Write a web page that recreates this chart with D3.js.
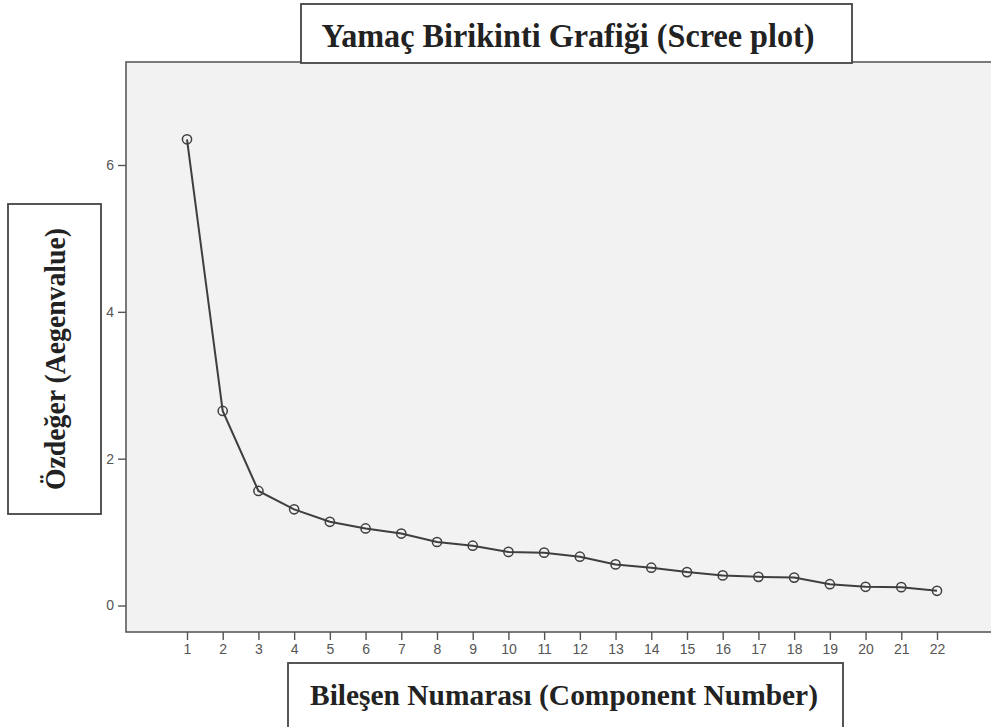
<!DOCTYPE html>
<html>
<head>
<meta charset="utf-8">
<script src="https://cdn.jsdelivr.net/npm/d3@7"></script>
<style>
  html, body { margin: 0; padding: 0; background: #ffffff; }
  svg { display: block; }
</style>
</head>
<body>
<svg id="chart" width="991" height="727"></svg>
<script>
// ---- data ----
const components = [1,2,3,4,5,6,7,8,9,10,11,12,13,14,15,16,17,18,19,20,21,22];
const eigenvalues = [6.35,2.65,1.56,1.31,1.14,1.05,0.98,0.865,0.815,0.73,0.72,0.665,0.56,0.515,0.455,0.41,0.39,0.38,0.29,0.255,0.25,0.20];
const yTicks = [0,2,4,6];
const titleText = "Yamaç Birikinti Grafiği (Scree plot)";
const xLabelText = "Bileşen Numarası (Component Number)";
const yLabelText = "Özdeğer (Aegenvalue)";

const svg = d3.select("#chart");

// plot frame
const frame = {left: 126, top: 62, bottom: 632, right: 1000};

const x = d3.scaleLinear().domain([1, 22]).range([187, 937]);
const y = d3.scaleLinear().domain([0, 6]).range([605.5, 165]);

// plot background
svg.append("rect")
  .attr("x", frame.left).attr("y", frame.top)
  .attr("width", frame.right - frame.left).attr("height", frame.bottom - frame.top)
  .attr("fill", "#f2f2f2")
  .attr("stroke", "#5a5a5a").attr("stroke-width", 1.6);

// y axis
const yAxis = d3.axisLeft(y).tickValues(yTicks).tickSize(8).tickPadding(4).tickFormat(d3.format("d"));
const gy = svg.append("g").attr("transform", `translate(${frame.left},0)`).call(yAxis);
gy.select(".domain").remove();
gy.selectAll(".tick line").attr("stroke", "#555").attr("stroke-width", 1.4);
gy.selectAll(".tick text").attr("fill", "#555").style("font-family", "'Liberation Sans', Arial, sans-serif").style("font-size", "14px");

// x axis
const xAxis = d3.axisBottom(x).tickValues(components).tickSize(8).tickPadding(4).tickFormat(d3.format("d"));
const gx = svg.append("g").attr("transform", `translate(0,${frame.bottom})`).call(xAxis);
gx.select(".domain").remove();
gx.selectAll(".tick line").attr("stroke", "#555").attr("stroke-width", 1.4);
gx.selectAll(".tick text").attr("fill", "#555").style("font-family", "'Liberation Sans', Arial, sans-serif").style("font-size", "14px");

// line
const data = components.map((c, i) => ({c, v: eigenvalues[i]}));
svg.append("path")
  .datum(data)
  .attr("fill", "none")
  .attr("stroke", "#3f3f3f")
  .attr("stroke-width", 2)
  .attr("d", d3.line().x(d => x(d.c)).y(d => y(d.v)));

svg.selectAll("circle.pt")
  .data(data)
  .enter().append("circle")
  .attr("class", "pt")
  .attr("cx", d => x(d.c)).attr("cy", d => y(d.v))
  .attr("r", 4.6)
  .attr("fill", "none")
  .attr("stroke", "#3f3f3f")
  .attr("stroke-width", 1.5);

const serif = "'Liberation Serif', 'Times New Roman', serif";

// title box
svg.append("rect").attr("x", 301).attr("y", 4).attr("width", 551).attr("height", 59)
  .attr("fill", "#ffffff").attr("stroke", "#444").attr("stroke-width", 1.8);
svg.append("text").attr("x", 568).attr("y", 47)
  .attr("text-anchor", "middle")
  .attr("textLength", 493).attr("lengthAdjust", "spacingAndGlyphs")
  .style("font-family", serif).style("font-weight", "bold").style("font-size", "34px")
  .attr("fill", "#222")
  .text(titleText);

// x label box
svg.append("rect").attr("x", 288).attr("y", 663).attr("width", 555).attr("height", 80)
  .attr("fill", "#ffffff").attr("stroke", "#444").attr("stroke-width", 1.8);
svg.append("text").attr("x", 564).attr("y", 705)
  .attr("text-anchor", "middle")
  .attr("textLength", 508).attr("lengthAdjust", "spacingAndGlyphs")
  .style("font-family", serif).style("font-weight", "bold").style("font-size", "30px")
  .attr("fill", "#222")
  .text(xLabelText);

// y label box
svg.append("rect").attr("x", 8).attr("y", 204).attr("width", 93).attr("height", 310)
  .attr("fill", "#ffffff").attr("stroke", "#444").attr("stroke-width", 1.8);
svg.append("text")
  .attr("transform", "translate(65,359) rotate(-90)")
  .attr("text-anchor", "middle")
  .attr("textLength", 262).attr("lengthAdjust", "spacingAndGlyphs")
  .style("font-family", serif).style("font-weight", "bold").style("font-size", "30px")
  .attr("fill", "#222")
  .text(yLabelText);
</script>
</body>
</html>
